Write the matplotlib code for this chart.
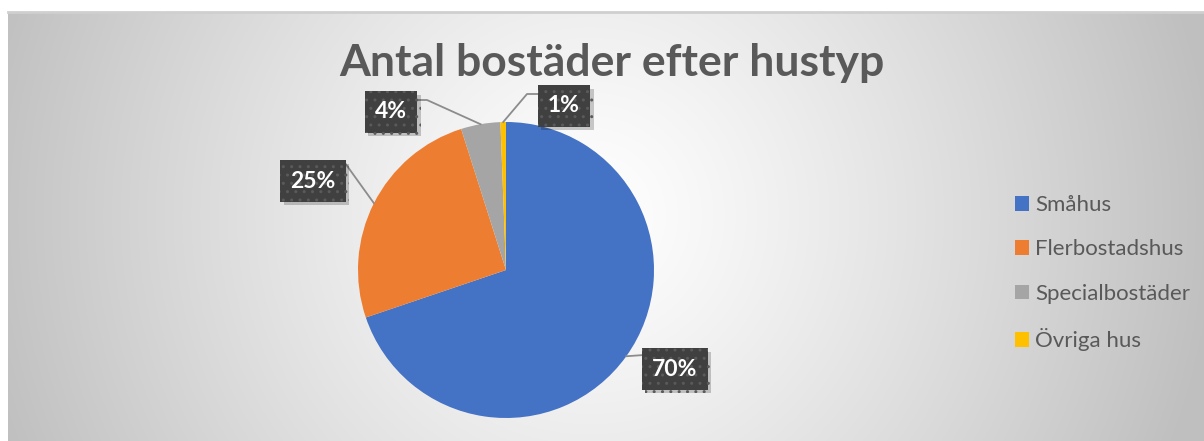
import numpy as np
import matplotlib
matplotlib.use("Agg")
import matplotlib.pyplot as plt
from matplotlib.patches import Patch
import matplotlib.patheffects as pe

# ---- data ----
categories = ["Småhus", "Flerbostadshus", "Specialbostäder", "Övriga hus"]
values = [69.8, 25.3, 4.3, 0.6]
colors = ["#4472C4", "#ED7D31", "#A5A5A5", "#FFC000"]
title = "Antal bostäder efter hustyp"

W, H = 1204, 441
fig = plt.figure(figsize=(W / 100, H / 100), dpi=100)
fig.patch.set_facecolor("white")

# ---- background chart area with radial gradient ----
x0, y0 = 8, 12  # px, top-left of chart area
bg = fig.add_axes([x0 / W, 0, (W - x0) / W, (H - y0) / H])
bg.set_axis_off()
xs = np.arange(x0, W)
ys = np.arange(y0, H)
XX, YY = np.meshgrid(xs, ys)
d = np.sqrt((XX - 590) ** 2 + (YY - 215) ** 2) / 630.0
t = np.clip(d, 0, 1) ** 1.2
g = (255 - 64 * t) / 255.0
img = np.dstack([g, g, g])
bg.imshow(img, aspect="auto", extent=[0, 1, 0, 1], interpolation="bilinear")
bg.set_xlim(0, 1)
bg.set_ylim(0, 1)
bg.plot([0, 1], [1, 1], color="#cfcfcf", lw=2, transform=bg.transAxes, clip_on=False)

# ---- pie ----
cx, cy, R = 506, 270, 148
ax = fig.add_axes([(cx - R) / W, (H - cy - R) / H, 2 * R / W, 2 * R / H])
ax.set_axis_off()
wedges, _ = ax.pie(values, colors=colors, startangle=90, counterclock=False,
                   radius=1.0, wedgeprops=dict(linewidth=0))
ax.set_xlim(-1, 1)
ax.set_ylim(-1, 1)
ax.set_aspect("equal")

fontname = "Lato"

def px2d(px, py):
    return ((px - cx) / R, (cy - py) / R)

label_pos = [px2d(675, 369), px2d(313, 181), px2d(391, 112), px2d(564, 106)]
leader_start = [px2d(644, 355), px2d(345, 163), px2d(416, 100), px2d(539, 94)]
leader_knee = [None, None, px2d(427, 100), px2d(527, 94)]

total = sum(values)
for i, w in enumerate(wedges):
    ang = np.deg2rad((w.theta1 + w.theta2) / 2)
    mx, my = np.cos(ang), np.sin(ang)
    sx, sy = leader_start[i]
    pts = [(sx, sy)]
    if leader_knee[i] is not None:
        pts.append(leader_knee[i])
    pts.append((mx, my))
    px_, py_ = zip(*pts)
    ax.plot(px_, py_, color="#8c8c8c", lw=1.3, clip_on=False, zorder=3)
    pct = f"{round(values[i] / total * 100):d}%"
    lx, ly = label_pos[i]
    txt = ax.text(lx, ly, pct, ha="center", va="center", fontsize=16.5,
                  fontweight="bold", family=fontname, color="white",
                  bbox=dict(boxstyle="square,pad=0.45", facecolor="#404040",
                            edgecolor="#5a5a5a", hatch="..", linewidth=0),
                  zorder=5, clip_on=False)
    txt.get_bbox_patch().set_path_effects([
        pe.SimplePatchShadow(offset=(2.5, -2.5), shadow_rgbFace="black", alpha=0.2),
        pe.Normal()])

# ---- title ----
fig.text(612 / W, 1 - 63 / H, title, ha="center", va="center", fontsize=32,
         fontweight="bold", family=fontname, color="#595959")

# ---- legend ----
handles = [Patch(facecolor=c, edgecolor="none") for c in colors]
leg = fig.legend(handles, categories, loc="upper left",
                 bbox_to_anchor=(995 / W, 1 - 175 / H), frameon=False,
                 prop=dict(family=fontname, size=16), labelcolor="#595959",
                 handlelength=0.65, handleheight=0.65, handletextpad=0.25,
                 labelspacing=1.1)

fig.savefig("out.png", dpi=100)
